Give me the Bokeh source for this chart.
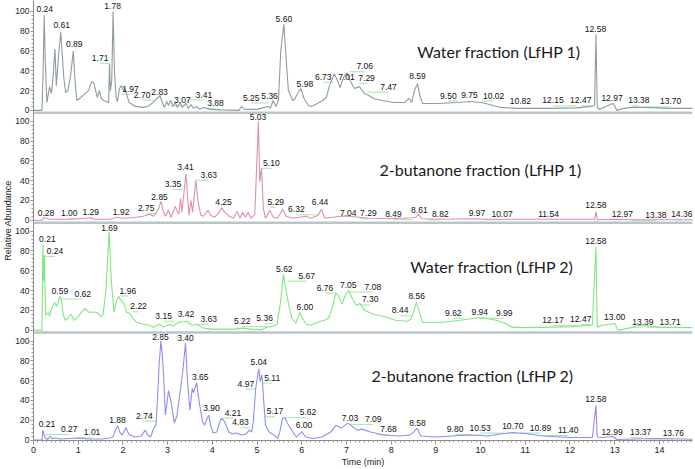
from bokeh.plotting import figure
from bokeh.models import Range1d, FixedTicker, Span, Title
from bokeh.core.properties import value
from bokeh.embed import file_html
from bokeh.resources import INLINE

# ---------------- data: panel 1, Water fraction (LfHP 1) ----------------
w1_time = [0, 0.19, 0.21, 0.24, 0.26, 0.30, 0.36, 0.40, 0.44, 0.48, 0.51, 0.56, 0.61, 0.68, 0.72, 0.77,
           0.83, 0.89, 0.93, 0.97, 1.03, 1.13, 1.23, 1.30, 1.35, 1.40, 1.43, 1.47, 1.52, 1.57, 1.63, 1.68,
           1.70, 1.72, 1.75, 1.78, 1.81, 1.85, 1.88, 1.92, 1.97, 2.01, 2.05, 2.09, 2.14, 2.28, 2.45, 2.55,
           2.62, 2.70, 2.76, 2.83, 2.88, 2.93, 2.98, 3.02, 3.07, 3.12, 3.17, 3.22, 3.28, 3.33, 3.41, 3.46,
           3.52, 3.58, 3.65, 3.72, 3.80, 3.88, 3.95, 4.2, 4.6, 4.65, 4.72, 5.0, 5.25, 5.30, 5.36, 5.42,
           5.48, 5.53, 5.60, 5.64, 5.70, 5.80, 5.85, 5.92, 5.98, 6.05, 6.15, 6.22, 6.35, 6.47, 6.55, 6.62,
           6.73, 6.80, 6.86, 6.93, 7.01, 7.06, 7.12, 7.18, 7.29, 7.40, 7.50, 7.60, 7.80, 8.05, 8.30, 8.40,
           8.46, 8.52, 8.59, 8.64, 8.70, 9.0, 9.5, 9.75, 10.02, 10.2, 10.45, 10.82, 11.5, 12.15, 12.47, 12.55,
           12.58, 12.61, 12.65, 12.75, 12.90, 12.97, 13.05, 13.20, 13.38, 13.6, 13.7, 14.2, 14.85]
w1_abund = [0, 0, 30, 96, 54, 8, 24, 17, 35, 62, 25, 55, 79, 32, 18, 20,
            35, 60, 30, 10, 12, 16, 20, 29, 28, 18, 13, 20, 12, 10, 9, 8,
            47, 20, 30, 100, 40, 12, 9, 22, 25, 20, 22, 15, 8, 4, 3, 4,
            6, 9, 12, 15, 8, 3, 9, 5, 10, 4, 8, 3, 8, 3, 7, 2,
            6, 2, 4, 1, 3, 2, 1, 0.5, 0, 4, 1, 1, 4, 2, 10, 4,
            10, 60, 87, 60, 20, 10, 12, 18, 22, 12, 5, 4, 7, 10, 13, 25,
            37, 30, 23, 33, 38, 32, 27, 22, 24, 17, 15, 12, 10, 8, 8, 12,
            8, 20, 27, 15, 7, 7, 8, 9, 8, 6, 3, 2, 2, 2.5, 4, 5,
            77, 3, 1, 3, 6, 7, 0, 2, 3, 3, 3, 2, 2]
w1_lab_text = ["0.24", "0.61", "0.89", "1.71", "1.78", "1.97", "2.70", "2.83", "3.07", "3.41", "3.88",
               "5.25", "5.36", "5.60", "5.98", "6.73", "7.01", "7.06", "7.29", "7.47", "8.59", "9.50",
               "9.75", "10.02", "10.82", "12.15", "12.47", "12.58", "12.97", "13.38", "13.70"]
w1_lab_x = [0.25, 0.63, 0.91, 1.49, 1.77, 2.17, 2.43, 2.82, 3.33, 3.81, 4.07,
            4.87, 5.28, 5.60, 6.07, 6.48, 7.0, 7.41, 7.45, 7.94, 8.59, 9.28,
            9.75, 10.29, 10.89, 11.62, 12.24, 12.57, 12.94, 13.54, 14.25]
w1_lab_y = [102, 86, 67, 53, 105, 22, 16, 18.5, 10, 16, 7,
            13, 14.5, 92, 27, 34, 34, 44.5, 32.7, 24, 35, 15,
            16, 15, 9, 10, 10, 82.5, 13, 10, 9]

# ---------------- data: panel 2, 2-butanone fraction (LfHP 1) ----------------
b1_time = [0, 0.20, 0.24, 0.28, 0.35, 0.8, 1.0, 1.28, 1.35, 1.7, 1.87, 1.92, 2.05, 2.3, 2.45, 2.6,
           2.68, 2.75, 2.80, 2.85, 2.90, 2.95, 3.02, 3.07, 3.12, 3.17, 3.21, 3.25, 3.29, 3.32, 3.35, 3.41,
           3.46, 3.48, 3.52, 3.56, 3.63, 3.68, 3.74, 3.80, 3.90, 3.96, 4.05, 4.15, 4.21, 4.28, 4.38, 4.47,
           4.56, 4.62, 4.68, 4.74, 4.80, 4.86, 4.95, 5.03, 5.06, 5.10, 5.14, 5.19, 5.29, 5.36, 5.45, 5.58,
           5.65, 5.80, 5.95, 6.10, 6.20, 6.32, 6.38, 6.44, 6.52, 6.70, 6.90, 7.04, 7.29, 7.5, 8.0, 8.49,
           8.55, 8.61, 8.68, 9.0, 9.97, 10.07, 11.54, 12.55, 12.58, 12.61, 12.97, 13.38, 14.36, 14.85]
b1_abund = [0, 0, 3, 2, 1, 1, 1.5, 2.5, 1, 1, 3, 2.5, 2, 3, 4, 6,
            4, 8, 12, 19, 10, 4, 10, 3, 8, 14, 10, 6, 22, 8, 21, 47,
            15, 5, 20, 8, 40, 20, 5, 4, 10, 5, 3, 8, 12.5, 8, 4, 2,
            9, 2, 8, 3, 8, 2, 6, 100, 39, 53, 12, 2, 10, 3, 2, 11,
            4, 2, 3, 4, 2, 4, 6, 11, 2, 3, 4, 4, 3, 2, 1.5, 2.5,
            3, 6, 1.5, 1, 1.5, 1, 1, 1, 8.5, 0.5, 1, 0.5, 0.5, 0.5]
b1_lab_text = ["0.28", "1.00", "1.29", "1.92", "2.75", "2.85", "3.35", "3.41", "3.63", "4.25", "5.03",
               "5.10", "5.29", "6.32", "6.44", "7.04", "7.29", "8.49", "8.61", "8.82", "9.97", "10.07",
               "11.54", "12.58", "12.97", "13.38", "14.36"]
b1_lab_x = [0.28, 0.80, 1.28, 1.96, 2.52, 2.82, 3.12, 3.40, 3.92, 4.25, 5.02,
            5.32, 5.42, 5.88, 6.41, 7.04, 7.49, 8.05, 8.63, 9.10, 9.92, 10.48,
            11.52, 12.58, 13.17, 13.92, 14.5]
b1_lab_y = [7.5, 7, 8.5, 8.5, 12, 23, 36.6, 53.5, 46, 18.6, 104,
            58, 18.6, 11, 18.6, 7, 7, 6, 10, 6, 7.5, 6,
            6, 15, 6, 5, 6]

# ---------------- data: panel 3, Water fraction (LfHP 2) ----------------
w2_time = [0, 0.19, 0.21, 0.23, 0.24, 0.27, 0.33, 0.36, 0.41, 0.47, 0.52, 0.59, 0.62, 0.67, 0.71, 0.77,
           0.84, 0.91, 0.95, 1.02, 1.10, 1.15, 1.24, 1.40, 1.47, 1.52, 1.56, 1.62, 1.69, 1.74, 1.80, 1.86,
           1.91, 1.96, 2.02, 2.08, 2.15, 2.22, 2.30, 2.45, 2.6, 2.68, 2.82, 2.90, 3.05, 3.12, 3.25, 3.42,
           3.55, 3.65, 3.80, 4.0, 4.5, 4.68, 4.85, 5.1, 5.22, 5.36, 5.45, 5.53, 5.59, 5.65, 5.71, 5.78,
           5.87, 5.95, 6.02, 6.10, 6.20, 6.35, 6.50, 6.60, 6.68, 6.76, 6.82, 6.90, 6.97, 7.05, 7.12, 7.22,
           7.30, 7.40, 7.60, 7.82, 8.10, 8.35, 8.44, 8.50, 8.56, 8.62, 8.70, 9.15, 9.55, 9.94, 10.1, 10.35,
           10.55, 10.7, 11.0, 12.1, 12.4, 12.5, 12.58, 12.61, 12.7, 12.90, 13.00, 13.07, 13.2, 13.42, 13.55, 14.0,
           14.85]
w2_abund = [0, 0, 86, 50, 76, 15, 18, 14, 22, 28, 24, 34, 30, 15, 10, 12,
            16, 10, 11, 15, 20, 22, 18, 18, 16, 13, 17, 40, 99, 50, 18, 30,
            34, 30, 27, 18, 17, 12, 8, 6, 5, 3, 6, 3, 6, 4, 8, 9,
            5, 6, 2, 1, 1, 2, 1, 0.5, 3, 4, 6, 30, 56, 40, 25, 12,
            7, 18, 12, 6, 5, 8, 10, 12, 22, 37, 35, 26, 35, 40, 33, 25,
            27, 20, 16, 14, 10, 9, 11, 18, 28, 20, 8, 8, 10, 12.5, 12, 10,
            7, 3, 2.5, 3.5, 5, 5, 84, 3, 5, 6, 7, 0, 1, 3, 5, 3,
            2.5]
w2_lab_text = ["0.21", "0.24", "0.59", "0.62", "1.69", "1.96", "2.22", "3.15", "3.42", "3.63", "5.22",
               "5.36", "5.62", "5.67", "6.00", "6.76", "7.05", "7.08", "7.30", "8.44", "8.56", "9.62",
               "9.94", "9.99", "12.17", "12.47", "12.58", "13.00", "13.39", "13.71"]
w2_lab_x = [0.31, 0.48, 0.59, 1.10, 1.70, 2.11, 2.35, 2.91, 3.41, 3.92, 4.67,
            5.17, 5.61, 6.11, 6.07, 6.52, 7.04, 7.59, 7.53, 8.20, 8.57, 9.39,
            9.98, 10.53, 11.62, 12.24, 12.58, 13.0, 13.63, 14.24]
w2_lab_y = [92, 80, 39.4, 37, 103, 40, 24, 14.5, 16, 11, 9,
            12, 62, 55, 23.6, 43, 46, 44, 31, 20, 34, 17.5,
            18, 17.5, 10, 11, 90, 13.5, 8.4, 8.4]

# ---------------- data: panel 4, 2-butanone fraction (LfHP 2) ----------------
b2_time = [0, 0.19, 0.21, 0.26, 0.32, 0.37, 0.42, 0.48, 0.6, 0.8, 1.03, 1.2, 1.55, 1.70, 1.77, 1.82,
           1.88, 1.93, 1.98, 2.07, 2.14, 2.28, 2.40, 2.50, 2.55, 2.62, 2.69, 2.74, 2.77, 2.81, 2.85, 2.88,
           2.91, 2.95, 3.02, 3.08, 3.15, 3.21, 3.29, 3.34, 3.40, 3.45, 3.50, 3.55, 3.58, 3.65, 3.70, 3.78,
           3.83, 3.88, 3.92, 3.96, 4.02, 4.10, 4.18, 4.21, 4.28, 4.37, 4.45, 4.53, 4.65, 4.75, 4.83, 4.88,
           4.92, 4.97, 5.04, 5.07, 5.11, 5.15, 5.19, 5.27, 5.38, 5.46, 5.51, 5.57, 5.62, 5.68, 5.80, 5.88,
           6.00, 6.09, 6.24, 6.45, 6.65, 6.77, 6.88, 7.03, 7.12, 7.24, 7.35, 7.54, 7.82, 8.20, 8.42, 8.50,
           8.58, 8.66, 9.0, 9.55, 9.92, 10.15, 10.45, 10.72, 11.0, 11.4, 12.0, 12.5, 12.58, 12.61, 12.75, 12.95,
           13.05, 13.45, 13.9, 14.5, 14.85]
b2_abund = [0, 0, 10, 2, 0.5, 4, 1, 2, 1, 1.5, 2, 1, 1, 2, 3, 8,
            14.5, 8, 5, 12.5, 5, 3, 4, 10, 5, 3, 12, 15, 39, 76, 100, 86,
            65, 25, 50, 38, 17, 25, 52, 70, 98, 56, 30, 52, 48, 58, 40, 18.5,
            15, 22, 25, 15, 7, 8, 20, 22, 18, 8, 6, 7, 5, 6, 10, 8,
            20, 52, 72, 59, 66, 39, 15, 8, 5, 2, 8, 22, 22.5, 17, 8, 3,
            8.5, 3, 1.5, 3, 8, 15, 12, 17, 14, 10, 11, 8, 5, 4, 5, 8,
            12, 4, 3, 4.5, 5, 4, 6, 7.5, 6.5, 4, 2.5, 2.5, 35, 3, 2.5, 3.5,
            0.5, 1, 1.5, 1, 0.7]
b2_lab_text = ["0.21", "0.27", "1.01", "1.88", "2.74", "2.85", "3.40", "3.65", "3.90", "4.21", "4.83",
               "4.97", "5.04", "5.11", "5.17", "5.62", "6.00", "7.03", "7.09", "7.68", "8.58", "9.80",
               "10.53", "10.70", "10.89", "11.40", "12.58", "12.99", "13.37", "13.76"]
b2_lab_x = [0.30, 0.80, 1.31, 1.88, 2.48, 2.84, 3.40, 3.73, 3.98, 4.46, 4.63,
            4.75, 5.04, 5.34, 5.40, 6.14, 6.05, 7.08, 7.60, 7.94, 8.59, 9.43,
            9.99, 10.72, 11.34, 11.96, 12.58, 12.94, 13.58, 14.31]
b2_lab_y = [16, 11, 7.7, 20, 24.6, 104, 103, 64, 32, 27.6, 17.8,
            57, 78.5, 63, 29, 28, 15, 22, 21, 11, 17.5, 11,
            12.5, 14, 12.5, 10, 41, 8.4, 7.7, 6.7]

panel_titles = ["Water fraction (LfHP 1)", "2-butanone fraction (LfHP 1)",
                "Water fraction (LfHP 2)", "2-butanone fraction (LfHP 2)"]
panel_colors = ["#8d9ca3", "#dd8fae", "#7fe87f", "#8e8ef0"]
y_tick_values = [0, 20, 40, 60, 80, 100]
x_ticks = list(range(0, 15))

# ---------------- layout ----------------
PITCH = 111                       # vertical spacing of the stacked panels, in abundance units
offsets = [3 * PITCH, 2 * PITCH, PITCH, 0]
title_pos = [(12.24, 59), (12.26, 51), (12.08, 64), (12.08, 65)]
W, H = 695, 469
LEFT = 30
X_END = 14.74
Y_START, Y_END = -0.5, 3 * PITCH + 111
FONT = "Liberation Sans"

p = figure(width=W, height=H, output_backend="svg", toolbar_location=None,
           x_range=Range1d(0, X_END), y_range=Range1d(Y_START, Y_END),
           min_border_left=LEFT, min_border_right=3, min_border_top=0, min_border_bottom=0)
p.outline_line_color = None
p.grid.grid_line_color = None
p.border_fill_color = "white"

panels = [
    (w1_time, w1_abund, w1_lab_text, w1_lab_x, w1_lab_y),
    (b1_time, b1_abund, b1_lab_text, b1_lab_x, b1_lab_y),
    (w2_time, w2_abund, w2_lab_text, w2_lab_x, w2_lab_y),
    (b2_time, b2_abund, b2_lab_text, b2_lab_x, b2_lab_y),
]

major_ticks, minor_ticks, overrides = [], [], {}
for i, (times, vals, lt, lx, ly) in enumerate(panels):
    off = offsets[i]
    color = panel_colors[i]
    if off > 0:
        p.add_layout(Span(location=off - 2.5, dimension="width", line_color="#b9c5cd", line_width=2.5))
    sx0, sx1, sy = [], [], []
    for t, x, y in zip(lt, lx, ly):
        pk = float(t)
        if abs(pk - x) > 0.12:
            sx0.append(pk)
            sx1.append(x)
            sy.append(y - 5.5 + off)
    p.segment(x0=sx0, y0=sy, x1=sx1, y1=sy, line_color="#a6e6a0", line_width=1)
    p.line(times, [v + off for v in vals], line_color=color, line_width=1.1)
    p.text(x=lx, y=[v + off for v in ly], text=lt, text_align="center", text_baseline="middle",
           text_font=value(FONT), text_font_size="8.5px", text_color="#111111")
    tx, ty = title_pos[i]
    p.text(x=[tx], y=[ty + off], text=[panel_titles[i]], text_align="right", text_baseline="middle",
           text_font=value("Lato"), text_font_size="16px", text_color="#1a1a1a")
    for v in y_tick_values:
        major_ticks.append(v + off)
        overrides[v + off] = str(v)
    minor_ticks.extend(m + off for m in range(0, 101, 4))

yax = p.yaxis[0]
yax.ticker = FixedTicker(ticks=major_ticks, minor_ticks=minor_ticks)
yax.major_label_overrides = overrides
yax.major_label_text_font = FONT
yax.major_label_text_font_size = "8.5px"
yax.major_label_text_color = "#222222"
yax.axis_line_color = "#8a8a8a"
yax.major_tick_line_color = "#8a8a8a"
yax.minor_tick_line_color = "#9a9a9a"
yax.major_tick_in = 0
yax.major_tick_out = 3
yax.minor_tick_in = 0
yax.minor_tick_out = 2
yax.major_label_standoff = 1

xax = p.xaxis[0]
xax.ticker = FixedTicker(ticks=x_ticks, minor_ticks=[i / 10 for i in range(0, 148)])
xax.major_label_text_font = FONT
xax.major_label_text_font_size = "9px"
xax.major_label_text_color = "#222222"
xax.axis_line_color = "#8a8a8a"
xax.major_tick_line_color = "#8a8a8a"
xax.minor_tick_line_color = "#9a9a9a"
xax.major_tick_in = 0
xax.major_tick_out = 4
xax.minor_tick_in = 0
xax.minor_tick_out = 2
xax.major_label_standoff = 2
xax.axis_label = "Time (min)"
xax.axis_label_text_font = FONT
xax.axis_label_text_font_size = "9px"
xax.axis_label_text_font_style = "normal"
xax.axis_label_text_color = "#222222"
xax.axis_label_standoff = 1

# shared y-axis title on the left, shifted up to sit beside the second panel
p.add_layout(Title(text="Relative Abundance", align="center", offset=56, standoff=0,
                   text_font=FONT, text_font_size="9px", text_font_style="normal",
                   text_color="#222222"), "left")

open("out.html", "w").write(file_html(p, INLINE))
